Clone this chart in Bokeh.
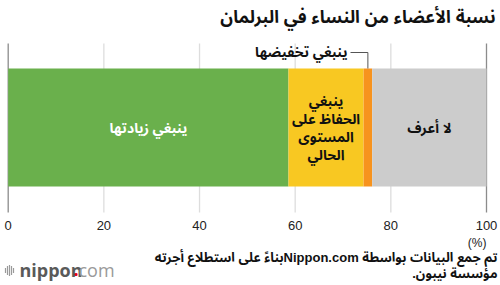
from bokeh.plotting import figure
from bokeh.models import Range1d
from bokeh.core.properties import value
from bokeh.embed import file_html
from bokeh.resources import INLINE

# ---- data ----
categories = ["ينبغي زيادتها", "ينبغي\nالحفاظ على\nالمستوى\nالحالي", "ينبغي تخفيضها", "لا أعرف"]
values = [58.6, 15.7, 1.8, 23.9]
colors = ["#6AB04C", "#F8C822", "#F7931E", "#CCCCCC"]
label_colors = ["#FFFFFF", "#111111", "#111111", "#111111"]
ticks = [0, 20, 40, 60, 80, 100]
tick_labels = ["0", "20", "40", "60", "80", "100"]
title = "نسبة الأعضاء من النساء في البرلمان"
unit = "(%)"
source_lines = ["تم جمع البيانات بواسطة Nippon.comبناءً على استطلاع أجرته", "مؤسسة نيبون."]

RLE, PDF = "\u202B", "\u202C"
AR_FONT = value("Noto Sans Arabic")
AR_STACK = value("Liberation Sans, Noto Sans Arabic")

PX = 4.783
X0 = -7.7 / PX
X1 = X0 + 500 / PX

def px(x):
    return X0 + x / PX

p = figure(width=500, height=285, min_border=0, x_range=Range1d(X0, X1),
           y_range=Range1d(285, 0), output_backend="svg", toolbar_location=None)
p.axis.visible = False
p.grid.visible = False
p.outline_line_color = None

# grid lines
grid_colors = ["#8C8C8C" if t in (0, 100) else "#DDDDDD" for t in ticks]
p.segment(x0=ticks, y0=[43] * len(ticks), x1=ticks, y1=[212] * len(ticks),
          line_color=grid_colors, line_width=1.3)

# bars
lefts, rights = [], []
acc = 0
for v in values:
    lefts.append(acc)
    acc += v
    rights.append(acc)
mids = [(l + r) / 2 for l, r in zip(lefts, rights)]
p.hbar(y=127, left=lefts, right=rights, height=118, fill_color=colors, line_color=None)

# in-bar labels (skip the tiny orange one)
inside = [0, 1, 3]
p.text(x=[mids[i] for i in inside], y=[128] * 3,
       text=[RLE + categories[i] + PDF for i in inside],
       text_color=[label_colors[i] for i in inside],
       text_align="center", text_baseline="middle", text_font=AR_FONT,
       text_font_style="bold", text_font_size="14px", text_line_height=0.62)

# callout for small segment
lab_x = px(350)
p.line(x=[lab_x, mids[2], mids[2]], y=[52, 52, 68], line_color="#555555", line_width=1)
p.text(x=[px(347)], y=[51], text=[RLE + categories[2] + PDF], text_align="right",
       text_baseline="middle", text_font=AR_STACK, text_font_style="bold",
       text_font_size="14px", text_color="#111111")

# tick labels
p.text(x=ticks, y=[225] * len(ticks), text=tick_labels, text_align="center",
       text_baseline="middle", text_font=value("Liberation Sans"),
       text_font_size="13px", text_color="#222222")

# title
p.text(x=[px(495)], y=[16], text=[RLE + title + PDF], text_align="right",
       text_baseline="middle", text_font=AR_STACK, text_font_style="bold",
       text_font_size="17.5px", text_color="#111111")

# unit + source
p.text(x=[px(486)], y=[242], text=[unit], text_align="right", text_baseline="middle",
       text_font=value("Liberation Sans"), text_font_size="12px", text_color="#222222")
p.text(x=[px(497)] * 2, y=[257, 273], text=[RLE + s + PDF for s in source_lines],
       text_align="right", text_baseline="middle", text_font=AR_STACK,
       text_font_style="bold", text_font_size="13px", text_color="#111111")

# logo
bar_x = [px(5), px(7), px(9), px(11), px(13)]
bar_h = [5, 9, 11, 9, 5]
p.segment(x0=bar_x, y0=[270 - h / 2 for h in bar_h], x1=bar_x, y1=[270 + h / 2 for h in bar_h],
          line_color="#9A9A9A", line_width=1.2)
p.text(x=[px(19)], y=[269], text=["nippon"], text_baseline="middle",
       text_font=value("Open Sans"), text_font_style="bold", text_font_size="18px",
       text_color="#5A5A5A")
p.text(x=[px(73)], y=[269], text=["."], text_baseline="middle",
       text_font=value("Open Sans"), text_font_style="bold", text_font_size="18px",
       text_color="#E60012")
p.text(x=[px(78)], y=[269], text=["com"], text_baseline="middle",
       text_font=value("Open Sans"), text_font_size="18px", text_color="#9A9A9A")

open("out.html", "w").write(file_html(p, INLINE))
